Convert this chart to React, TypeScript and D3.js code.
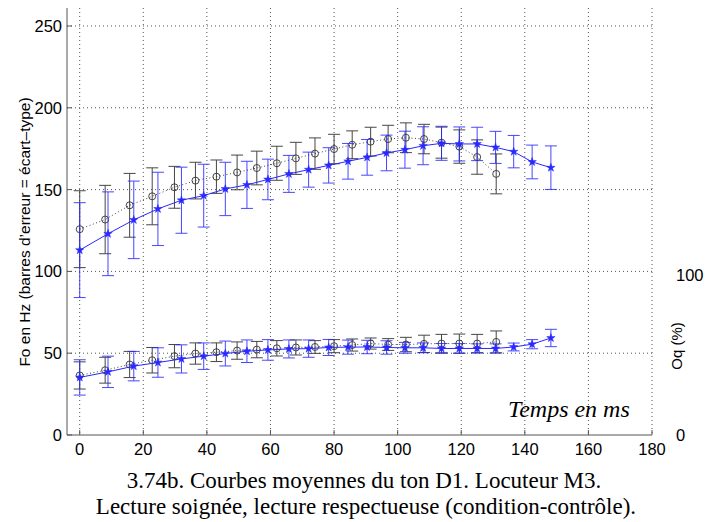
import React from "react";
import * as d3 from "d3";

// Time points (ms)
const timesCircle = [0, 8, 15.7, 22.8, 29.8, 36.4, 43, 49.5, 55.7, 62, 68, 74, 80, 85.7, 91.5, 97, 102.6, 108.3, 113.8, 119.4, 125, 131];
const timesStar = [0, 8.9, 17, 24.6, 32, 39, 45.8, 52.6, 59.2, 65.8, 72, 78.3, 84.4, 90.4, 96.5, 102.3, 108, 113.8, 119.4, 125, 130.8, 136.5, 142.3, 148.2];

// Upper curves (Fo, Hz)
const foCircleMean = [125.8, 131.7, 140.4, 145.9, 151.4, 155.5, 157.9, 160.5, 163.2, 166.1, 169.1, 172, 174.8, 177.4, 179.3, 180.9, 181.7, 180.9, 178.7, 176.3, 169.9, 159.6];
const foCircleSd = [23.5, 20.9, 19.5, 17.4, 12.8, 11.2, 10.2, 10.6, 10.3, 10.4, 9.8, 9.6, 9, 8.5, 8.8, 8.4, 9.1, 9, 9.5, 10.2, 10.5, 12.2];
const foStarMean = [113, 123, 131.5, 138.2, 143.5, 146.3, 150.4, 152.9, 156.2, 159.6, 162.2, 164.8, 167.3, 169.7, 172.4, 174.4, 176.8, 178.3, 177.9, 177.9, 175.8, 173.2, 166.9, 163.4];
const foStarSd = [29, 25.6, 23.7, 22.4, 20.2, 19.2, 16.3, 14.4, 12.4, 11.3, 10.7, 10.8, 10.9, 10.9, 10.9, 11.3, 11.6, 10.4, 10.4, 10.2, 9.8, 9.9, 10.3, 13.3];

// Lower curves (Oq)
const oqCircleMean = [36.4, 39.6, 43.1, 45.7, 48.2, 49.8, 50.6, 51.6, 52.2, 53.0, 53.5, 53.8, 54.3, 55, 55.9, 55.3, 55.3, 55.7, 55.9, 55.9, 55.9, 56.9];
const oqCircleSd = [8.3, 7.9, 8, 7.8, 7.1, 6.5, 5.7, 5.3, 5, 4.7, 4.6, 3.9, 4, 3.7, 3.4, 3.6, 4.4, 5.3, 5.6, 5.8, 5.6, 6.7];
const oqStarMean = [35.2, 38.6, 42.1, 44.3, 46.5, 48.2, 49.8, 51.2, 52.0, 52.6, 52.8, 53.5, 53.7, 53.8, 53.5, 53.3, 53.3, 52.9, 52.9, 52.9, 52.9, 53.8, 55.5, 59.3];
const oqStarSd = [10.8, 9.6, 9, 9, 8.6, 8.1, 7.6, 6.9, 6.3, 5.5, 5.3, 4.9, 4.3, 4.1, 4.1, 3.3, 3, 3, 3, 2.8, 2.8, 2.4, 2.8, 5.3];

const xTicks = [0, 20, 40, 60, 80, 100, 120, 140, 160, 180];
const yTicks = [0, 50, 100, 150, 200, 250];
const rightTicks = [
  { label: "100", v: 98 },
  { label: "0", v: 0 },
];

const BLUE = "#2828ff";
const DARK = "#333";

export default function App() {
  const x = d3.scaleLinear().domain([-4, 180]).range([67, 652]);
  const y = d3.scaleLinear().domain([0, 261]).range([435, 8]);
  const top = y(261);
  const bottom = y(0);
  const left = x(-4);
  const right = x(180);

  const line = d3
    .line<[number, number]>()
    .x((d) => x(d[0]))
    .y((d) => y(d[1]));
  const star = d3.symbol().type(d3.symbolStar).size(22)() as string;

  const series = [
    { t: timesCircle, m: foCircleMean, s: foCircleSd, kind: "circle" },
    { t: timesCircle, m: oqCircleMean, s: oqCircleSd, kind: "circle" },
    { t: timesStar, m: foStarMean, s: foStarSd, kind: "star" },
    { t: timesStar, m: oqStarMean, s: oqStarSd, kind: "star" },
  ];

  const sans = "'Liberation Sans', Arial, sans-serif";
  const serif = "'Liberation Serif', 'Times New Roman', serif";

  return (
    <svg width={720} height={522} style={{ display: "block", position: "absolute", left: 0, top: 0, background: "#fff" }}>
      <rect x={0} y={0} width={720} height={522} fill="#fff" />
      {/* grid */}
      {yTicks.filter((v) => v > 0).map((v) => (
        <line key={"gy" + v} x1={left} x2={right} y1={y(v)} y2={y(v)} stroke="#555" strokeWidth={1} strokeDasharray="1 3" />
      ))}
      {xTicks.map((v) => (
        <line key={"gx" + v} x1={x(v)} x2={x(v)} y1={top} y2={bottom} stroke="#555" strokeWidth={1} strokeDasharray="1 3" />
      ))}
      {/* axes */}
      <line x1={left} x2={left} y1={top} y2={bottom} stroke="#555" strokeWidth={1} />
      <line x1={left} x2={right} y1={bottom} y2={bottom} stroke="#555" strokeWidth={1} />
      {yTicks.map((v) => (
        <line key={"ty" + v} x1={left} x2={left + 5} y1={y(v)} y2={y(v)} stroke="#555" />
      ))}
      {xTicks.map((v) => (
        <line key={"tx" + v} x1={x(v)} x2={x(v)} y1={bottom} y2={bottom - 5} stroke="#555" />
      ))}
      {/* tick labels */}
      {yTicks.map((v) => (
        <text key={"ly" + v} x={left - 5} y={y(v)} dy="0.36em" textAnchor="end" fontFamily={sans} fontSize={16.5} fill="#000">
          {v}
        </text>
      ))}
      {xTicks.map((v) => (
        <text key={"lx" + v} x={x(v)} y={bottom + 20} textAnchor="middle" fontFamily={sans} fontSize={16.5} fill="#000">
          {v}
        </text>
      ))}
      {rightTicks.map((r) => (
        <text key={"r" + r.label} x={676} y={y(r.v)} dy="0.36em" textAnchor="start" fontFamily={sans} fontSize={16.5} fill="#000">
          {r.label}
        </text>
      ))}
      <text transform="translate(682,346) rotate(-90)" textAnchor="middle" fontFamily={sans} fontSize={15} fill="#000">
        Oq (%)
      </text>
      <text transform="translate(30,232) rotate(-90)" textAnchor="middle" fontFamily={sans} fontSize={15.5} fill="#000">
        Fo en Hz (barres d’erreur = écart–type)
      </text>
      <text x={508} y={417} fontFamily={serif} fontStyle="italic" fontSize={24} fill="#000">
        Temps en ms
      </text>
      {/* data */}
      {series.map((sr, si) => {
        const pts = sr.t.map((t, i) => [t, sr.m[i]] as [number, number]);
        const isStar = sr.kind === "star";
        const col = isStar ? BLUE : DARK;
        return (
          <g key={"s" + si}>
            <path
              d={line(pts) as string}
              fill="none"
              stroke={isStar ? BLUE : "#444"}
              strokeWidth={1}
              strokeDasharray={isStar ? undefined : "1 2.5"}
            />
            {sr.t.map((t, i) => {
              const cx = x(t);
              const y1 = y(sr.m[i] + sr.s[i]);
              const y2 = y(sr.m[i] - sr.s[i]);
              return (
                <g key={i} stroke={col} strokeWidth={1} opacity={isStar ? 0.85 : 0.9}>
                  <line x1={cx} x2={cx} y1={y1} y2={y2} />
                  <line x1={cx - 6} x2={cx + 6} y1={y1} y2={y1} />
                  <line x1={cx - 6} x2={cx + 6} y1={y2} y2={y2} />
                </g>
              );
            })}
            {sr.t.map((t, i) =>
              isStar ? (
                <path key={"m" + i} d={star} transform={`translate(${x(t)},${y(sr.m[i])})`} fill={BLUE} stroke={BLUE} strokeWidth={0.5} />
              ) : (
                <circle key={"m" + i} cx={x(t)} cy={y(sr.m[i])} r={3.5} fill="none" stroke={DARK} strokeWidth={0.9} />
              )
            )}
          </g>
        );
      })}
      {/* caption */}
      <text x={364} y={488} textAnchor="middle" fontFamily={serif} fontSize={23} fill="#000">
        3.74b. Courbes moyennes du ton D1. Locuteur M3.
      </text>
      <text x={366} y={514} textAnchor="middle" fontFamily={serif} fontSize={23} fill="#000">
        Lecture soignée, lecture respectueuse (condition-contrôle).
      </text>
    </svg>
  );
}
